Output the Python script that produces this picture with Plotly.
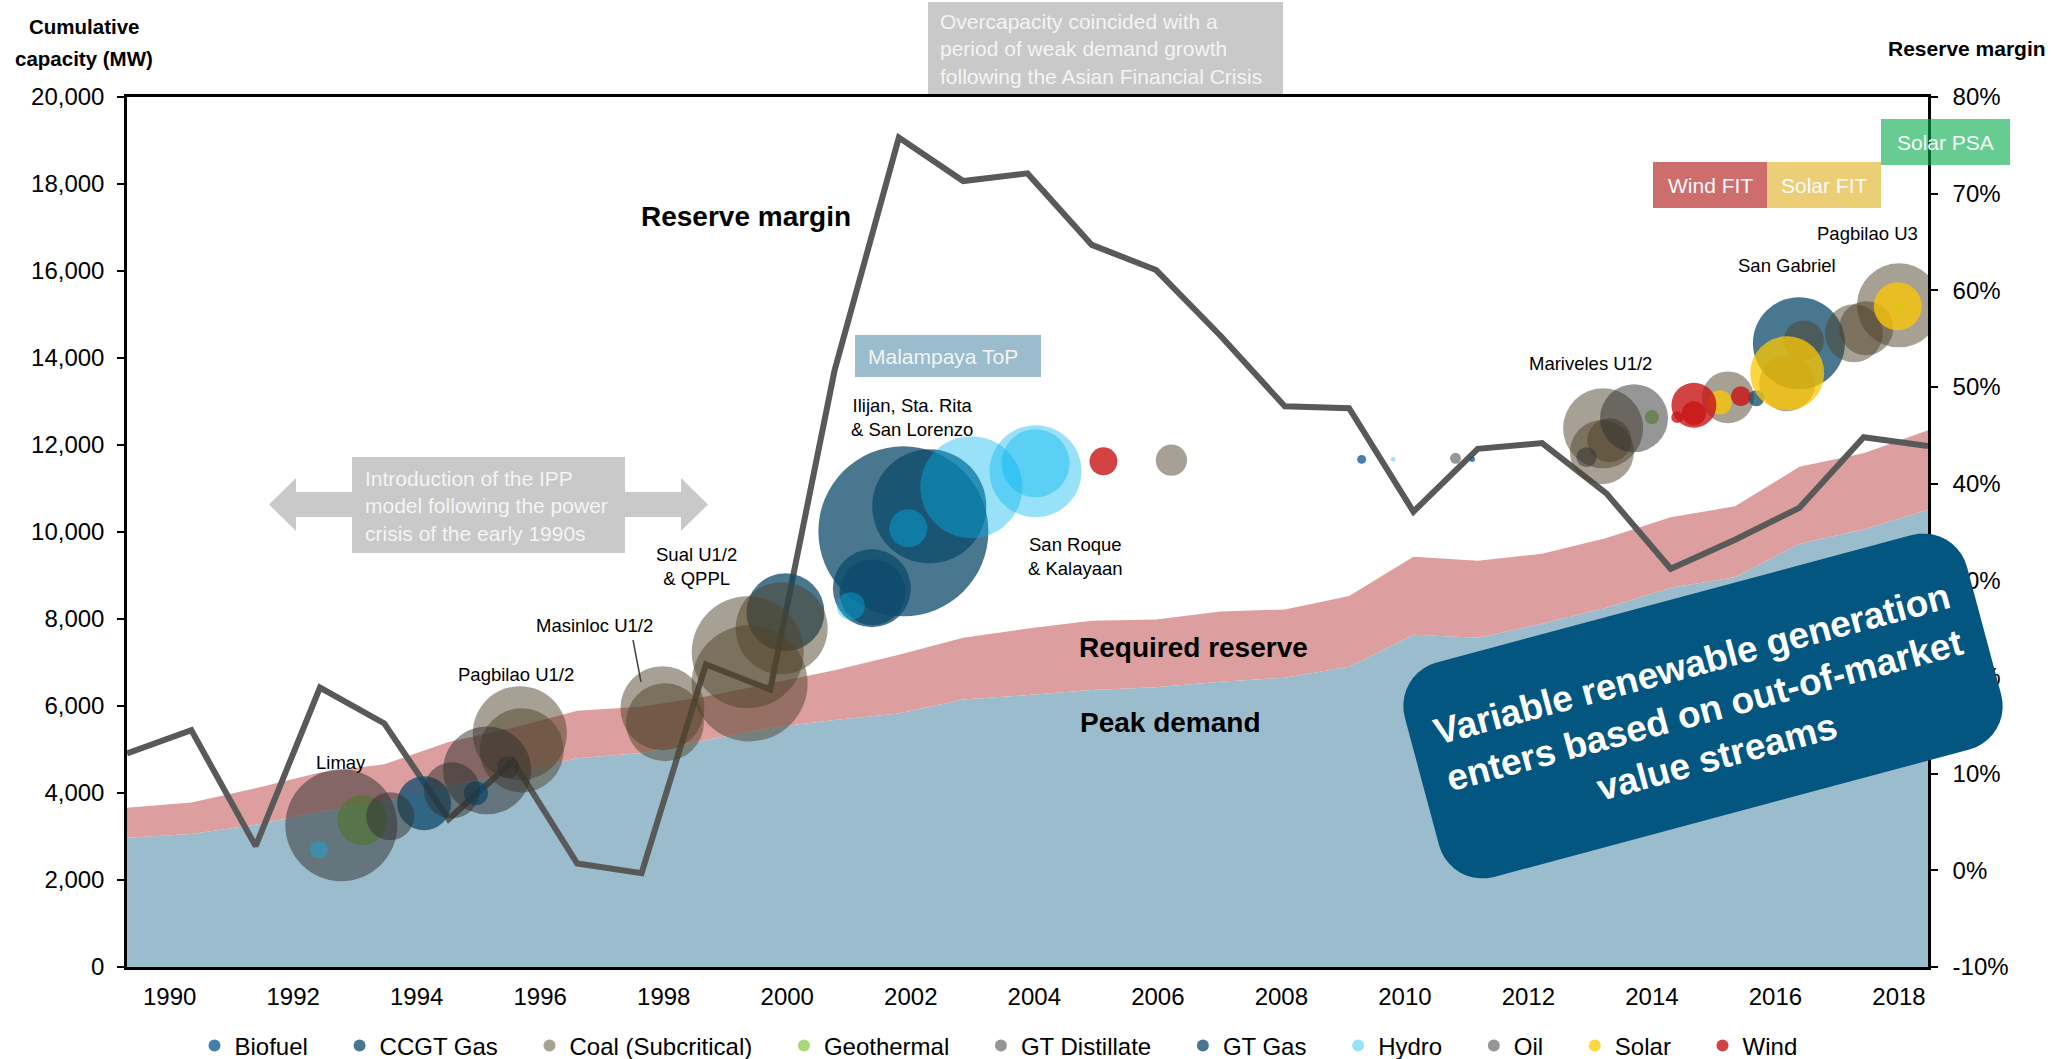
import math
import plotly.graph_objects as go

# --- demand / reserve series (one value per year) ---
years = list(range(1990, 2019))
peak_demand = [2970, 3060, 3270, 3570, 3810, 4170, 4470, 4800, 4920, 5220, 5500, 5680, 5830, 6150, 6250,
               6370, 6430, 6560, 6650, 6900, 7640, 7570, 7890, 8260, 8720, 8960, 9730, 10060, 10510]
required_reserve = [690, 720, 840, 900, 850, 1000, 1030, 1090, 1060, 1000, 1020, 1140, 1350, 1420, 1530,
                    1590, 1560, 1610, 1570, 1630, 1790, 1770, 1610, 1600, 1620, 1630, 1770, 1750, 1830]
reserve_margin = [12.1, 14.5, 2.5, 18.9, 15.2, 5.3, 11.3, 0.7, -0.3, 21.3, 18.7, 51.7, 75.8, 71.3, 72.1,
                  64.7, 62.1, 55.3, 48.0, 47.8, 37.1, 43.6, 44.2, 39.0, 31.2, 34.2, 37.5, 44.8, 43.9]

# --- new capacity entries: year, cumulative capacity (MW), unit size (MW), technology ---
plant_year = [2009.30, 2011.09,
              1999.97, 2001.37, 2001.38, 2001.88, 2002.30, 2016.38,
              1995.67, 1995.70, 1997.98, 1998.02, 1999.36, 1999.39, 1999.91, 2006.22, 2013.21, 2013.19,
              2013.31, 2015.23, 2016.19, 2016.46, 2017.27, 2017.47, 2018.00,
              1993.12, 2014.00, 2017.98,
              1992.78, 1995.14, 2012.94,
              1994.12, 1994.96, 2015.69,
              1992.42, 2001.03, 2001.96, 2002.98, 2004.02, 2004.02, 2009.81,
              1993.57, 1994.57, 1995.48, 2010.82, 2013.71,
              2015.10, 2016.19, 2017.98,
              2005.12, 2014.68, 2014.68, 2014.41, 2015.44]
plant_cum_mw = [11670, 11670,
                8155, 8705, 8615, 10015, 10590, 14340,
                5375, 4980, 5950, 5625, 7235, 6520, 7785, 11650, 12385, 11835,
                12110, 13095, 13420, 14405, 14570, 14685, 15210,
                3375, 12640, 15145,
                3260, 4520, 11720,
                3765, 3995, 13075,
                2705, 8295, 10085, 11030, 11395, 11580, 11670,
                3465, 4060, 4590, 11695, 12615,
                12980, 13650, 15190,
                11625, 12915, 12730, 12640, 13120]
plant_mw = [4, 1.5,
            304, 304, 218, 1445, 650, 423,
            442, 353, 353, 304, 627, 673, 423, 49, 320, 205,
            97, 135, 157, 80, 168, 146, 353,
            125, 10, 5,
            627, 387, 20,
            146, 29, 13,
            16, 39, 72, 520, 423, 231, 1,
            115, 157, 24, 6, 231,
            29, 274, 115,
            39, 101, 29, 7, 20]
plant_tech = (["Biofuel"] * 2 + ["CCGT Gas"] * 6 + ["Coal (Subcritical)"] * 17 + ["Geothermal"] * 3
              + ["GT Distillate"] * 3 + ["GT Gas"] * 3 + ["Hydro"] * 7 + ["Oil"] * 5 + ["Solar"] * 3 + ["Wind"] * 5)

technologies = ["Biofuel", "CCGT Gas", "Coal (Subcritical)", "Geothermal", "GT Distillate",
                "GT Gas", "Hydro", "Oil", "Solar", "Wind"]
tick_years = list(range(1990, 2019, 2))
rm_ticks = list(range(-10, 81, 10))
rm_ticktext = [f"{v}%" for v in rm_ticks]

# colour + opacity per technology
tech_style = {
    "Biofuel": ("rgb(0,85,142)", 0.75),
    "CCGT Gas": ("rgb(12,74,107)", 0.75),
    "Coal (Subcritical)": ("rgb(80,66,42)", 0.5),
    "Geothermal": ("rgb(110,190,37)", 0.6),
    "GT Distillate": ("rgb(45,45,45)", 0.5),
    "GT Gas": ("rgb(12,74,107)", 0.75),
    "Hydro": ("rgb(0,180,240)", 0.4),
    "Oil": ("rgb(45,45,45)", 0.5),
    "Solar": ("rgb(255,200,0)", 0.75),
    "Wind": ("rgb(200,20,20)", 0.8),
}

FONT = "Liberation Sans, Arial, sans-serif"
W, H = 2051, 1059
ML, MR, MT, MB = 127, 123, 97, 92
PW, PH = W - ML - MR, H - MT - MB


# pixel position -> paper coordinates
def fx(px):
    return (px - ML) / PW


def fy(py):
    return (H - MB - py) / PH


def rect(x0, y0, x1, y1, color):
    return dict(type="rect", xref="paper", yref="paper", x0=fx(x0), x1=fx(x1), y0=fy(y1), y1=fy(y0),
                fillcolor=color, line_width=0, layer="above")


def poly(points, color):
    path = "M " + " L ".join(f"{fx(x):.5f},{fy(y):.5f}" for x, y in points) + " Z"
    return dict(type="path", xref="paper", yref="paper", path=path, fillcolor=color,
                line_width=0, layer="above")


def rounded_rotated(cx, cy, w, h, rad, ang):
    a = math.radians(ang)
    corners = [(w / 2 - rad, -h / 2 + rad, -90, 0), (w / 2 - rad, h / 2 - rad, 0, 90),
               (-w / 2 + rad, h / 2 - rad, 90, 180), (-w / 2 + rad, -h / 2 + rad, 180, 270)]
    pts = []
    for ccx, ccy, a0, a1 in corners:
        for k in range(11):
            t = math.radians(a0 + (a1 - a0) * k / 10)
            dx = ccx + rad * math.cos(t)
            dy = ccy + rad * math.sin(t)
            pts.append((cx + dx * math.cos(a) + dy * math.sin(a), cy - dx * math.sin(a) + dy * math.cos(a)))
    return pts


def label(text, x, y, size=18.5, bold=False, color="black", xanchor="center", align="center", angle=0):
    if bold:
        text = f"<b>{text}</b>"
    return dict(text=text, xref="paper", yref="paper", x=fx(x), y=fy(y), xanchor=xanchor,
                yanchor="middle", align=align, showarrow=False, textangle=angle,
                font=dict(family=FONT, size=size, color=color))


fig = go.Figure()

# stacked areas
fig.add_trace(go.Scatter(x=years, y=peak_demand, stackgroup="d", mode="none",
                         fillcolor="#9bbccd", showlegend=False, hoverinfo="skip"))
fig.add_trace(go.Scatter(x=years, y=required_reserve, stackgroup="d", mode="none",
                         fillcolor="#dc9e9e", showlegend=False, hoverinfo="skip"))

# reserve margin line on the right axis
fig.add_trace(go.Scatter(x=years, y=reserve_margin, yaxis="y2", mode="lines",
                         line=dict(color="#595959", width=6), showlegend=False))

# capacity bubbles
pad = "\u00a0" * 4
for tech in technologies:
    idx = [i for i, t in enumerate(plant_tech) if t == tech]
    color, op = tech_style[tech]
    fig.add_trace(go.Scatter(
        x=[plant_year[i] for i in idx], y=[plant_cum_mw[i] for i in idx],
        xaxis="x2", mode="markers", name=tech + pad,
        marker=dict(size=[plant_mw[i] for i in idx], sizemode="area", sizeref=0.1,
                    color=color, opacity=op, line=dict(width=0)),
    ))

shapes = [
    rect(928, 2, 1283, 94, "#c9c9c9"),
    poly([(269, 504.5), (296, 478), (296, 492), (681, 492), (681, 478), (708, 504.5),
          (681, 531), (681, 517), (296, 517), (296, 531)], "#c9c9c9"),
    rect(352, 457, 625, 553, "#c9c9c9"),
    rect(855, 335, 1041, 377, "#9bbccd"),
    rect(1653, 162, 1767, 208, "#cd6e6c"),
    rect(1767, 162, 1881, 208, "#ecce76"),
    rect(1881, 119, 2010, 165, "rgba(0,170,72,0.6)"),
    poly(rounded_rotated(1703, 706, 582, 222, 45, 15), "#03567f"),
    dict(type="line", xref="paper", yref="paper", x0=fx(633), y0=fy(640), x1=fx(641), y1=fy(682),
         line=dict(color="#444444", width=1.5)),
]

annotations = [
    label("Cumulative", 84, 27, size=20.5, bold=True),
    label("capacity (MW)", 84, 59, size=20.5, bold=True),
    label("Reserve margin", 2048, 49, size=21, bold=True, xanchor="right"),
    label("Overcapacity coincided with a<br>period of weak demand growth<br>following the Asian Financial Crisis",
          938, 49, size=21, color="#f4f4f4", xanchor="left", align="left"),
    label("Introduction of the IPP<br>model following the power<br>crisis of the early 1990s",
          363, 506, size=21, color="#f4f4f4", xanchor="left", align="left"),
    label("Malampaya ToP", 866, 356, size=21, color="#f4f4f4", xanchor="left"),
    label("Wind FIT", 1710, 185, size=21, color="#fafafa"),
    label("Solar FIT", 1824, 185, size=21, color="#fafafa"),
    label("Solar PSA", 1945, 142, size=21, color="#fafafa"),
    label("Reserve margin", 746, 216, size=28, bold=True),
    label("Required reserve", 1193, 647, size=28, bold=True),
    label("Peak demand", 1170, 722, size=28, bold=True),
    label("Limay", 341, 762),
    label("Pagbilao U1/2", 516, 675),
    label("Masinloc U1/2", 594, 625),
    label("Sual U1/2<br>& QPPL", 696, 566),
    label("Ilijan, Sta. Rita<br>& San Lorenzo", 912, 417),
    label("San Roque<br>& Kalayaan", 1075, 556),
    label("Mariveles U1/2", 1590, 363),
    label("San Gabriel", 1787, 265),
    label("Pagbilao U3", 1867, 233),
    label("Variable renewable generation<br>enters based on out-of-market<br>value streams",
          1704, 710, size=37, bold=True, color="white", angle=-15),
]

axis_font = dict(family=FONT, size=24, color="black")
fig.update_layout(
    width=W, height=H,
    margin=dict(l=ML, r=MR, t=MT, b=MB, autoexpand=False),
    paper_bgcolor="white", plot_bgcolor="white",
    font=dict(family=FONT, color="black"),
    xaxis=dict(range=[1990, 2018], visible=False),
    xaxis2=dict(range=[1989.31, 2018.47], overlaying="x", anchor="y", side="bottom",
                tickvals=tick_years, ticks="", tickfont=axis_font, showgrid=False, zeroline=False,
                showline=True, linecolor="black", linewidth=2.5, mirror=True, ticklabelstandoff=6),
    yaxis=dict(range=[0, 20000], tickvals=list(range(0, 20001, 2000)), tickformat=",d",
               ticks="outside", ticklen=7, tickwidth=2, tickcolor="black", tickfont=axis_font,
               showgrid=False, zeroline=False, showline=True, linecolor="black", linewidth=2.5,
               ticklabelstandoff=8),
    yaxis2=dict(range=[-10, 80], overlaying="y", side="right", tickvals=rm_ticks, ticktext=rm_ticktext,
                ticks="outside", ticklen=7, tickwidth=2, tickcolor="black", tickfont=axis_font,
                showgrid=False, zeroline=False, showline=True, linecolor="black", linewidth=2.5,
                ticklabelstandoff=10),
    legend=dict(orientation="h", traceorder="normal", x=fx(1012), xanchor="center", y=fy(1046),
                yanchor="middle", font=dict(family=FONT, size=24, color="black"), itemsizing="constant",
                bgcolor="rgba(0,0,0,0)"),
    shapes=shapes,
    annotations=annotations,
)

# drop the default page margin so the figure sits flush in the window
fig.write_html("out.html", config={"displayModeBar": False},
               post_script="document.body.style.margin='0px';")
